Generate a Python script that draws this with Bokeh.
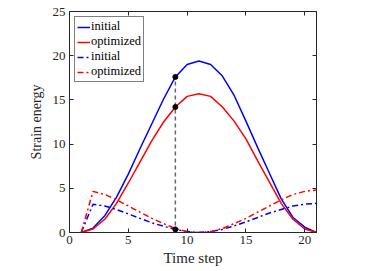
from bokeh.plotting import figure
from bokeh.models import LinearAxis, FixedTicker, CustomJSTickFormatter, Legend, LegendItem
from bokeh.embed import file_html
from bokeh.resources import INLINE

time_steps = list(range(1, 22))
initial_solid = [0, 0.5, 1.9, 4.0, 6.6, 9.5, 12.3, 15.1, 17.6, 19.0, 19.4,
                 19.0, 17.7, 15.5, 12.6, 9.6, 6.7, 3.8, 1.7, 0.6, 0]
optimized_solid = [0, 0.4, 1.5, 3.3, 5.6, 8.0, 10.4, 12.5, 14.2, 15.4, 15.7,
                   15.4, 14.2, 12.6, 10.6, 8.1, 5.7, 3.3, 1.5, 0.4, 0]
initial_dashdot = [0, 3.2, 3.0, 2.6, 2.1, 1.6, 1.1, 0.7, 0.35, 0.1, 0,
                   0.1, 0.35, 0.75, 1.2, 1.7, 2.2, 2.6, 3.0, 3.2, 3.3]
optimized_dashdot = [0, 4.65, 4.3, 3.7, 3.0, 2.3, 1.6, 1.0, 0.45, 0.1, 0,
                     0.1, 0.45, 1.0, 1.6, 2.3, 3.0, 3.7, 4.3, 4.65, 4.8]
marker_step = 9
x_ticks = [0, 5, 10, 15, 20]
y_ticks = [0, 5, 10, 15, 20, 25]

FONT = "Liberation Serif"
AX = "#262626"

p = figure(width=336, height=268, frame_width=247, frame_height=221,
           x_range=(0, 21), y_range=(0, 25), output_backend="svg",
           toolbar_location=None, min_border_left=69, min_border_top=11,
           min_border_right=20, min_border_bottom=36)
p.xgrid.visible = False
p.ygrid.visible = False
p.outline_line_color = AX
p.outline_line_width = 1
p.background_fill_color = "white"
p.border_fill_color = "white"

for ax in (p.xaxis[0], p.yaxis[0]):
    ax.major_tick_in = 4
    ax.major_tick_out = 0
    ax.minor_tick_line_color = None
    ax.axis_line_color = AX
    ax.major_tick_line_color = AX
    ax.major_label_text_font = FONT
    ax.major_label_text_font_size = "13px"
    ax.major_label_text_color = AX
    ax.axis_label_text_font = FONT
    ax.axis_label_text_font_style = "normal"
    ax.axis_label_text_color = AX
p.xaxis.ticker = FixedTicker(ticks=x_ticks)
p.yaxis.ticker = FixedTicker(ticks=y_ticks)
p.xaxis.axis_label = "Time step"
p.yaxis.axis_label = "Strain energy"
p.xaxis.axis_label_text_font_size = "15px"
p.yaxis.axis_label_text_font_size = "14px"
p.xaxis.major_label_standoff = 3
p.yaxis.major_label_standoff = 4
p.xaxis.axis_label_standoff = 3
p.yaxis.axis_label_standoff = 6

blank = CustomJSTickFormatter(code="return ''")
top = LinearAxis(ticker=FixedTicker(ticks=x_ticks), formatter=blank,
                 major_tick_in=4, major_tick_out=0, minor_tick_line_color=None,
                 axis_line_color=AX, major_tick_line_color=AX,
                 major_label_standoff=0, major_label_text_font_size="1px")
right = LinearAxis(ticker=FixedTicker(ticks=y_ticks), formatter=blank,
                   major_tick_in=4, major_tick_out=0, minor_tick_line_color=None,
                   axis_line_color=AX, major_tick_line_color=AX,
                   major_label_standoff=0, major_label_text_font_size="1px")
p.add_layout(top, "above")
p.add_layout(right, "right")

BLUE = "#0000ff"
RED = "#ff0000"
l1 = p.line(time_steps, initial_solid, line_color=BLUE, line_width=1.5)
l2 = p.line(time_steps, optimized_solid, line_color=RED, line_width=1.5)
l3 = p.line(time_steps, initial_dashdot, line_color=BLUE, line_width=1.5, line_dash="6 3 2 3")
l4 = p.line(time_steps, optimized_dashdot, line_color=RED, line_width=1.5, line_dash="6 3 2 3")

i = marker_step - 1
p.line([marker_step, marker_step], [0, initial_solid[i]], line_color="#666666",
       line_width=1.5, line_dash="4 3")
p.scatter([marker_step] * 3, [initial_solid[i], optimized_solid[i], initial_dashdot[i]],
          size=5, color="black")

legend = Legend(items=[LegendItem(label="initial", renderers=[l1]),
                       LegendItem(label="optimized", renderers=[l2]),
                       LegendItem(label="initial", renderers=[l3]),
                       LegendItem(label="optimized", renderers=[l4])],
                location="top_left")
legend.label_text_font = FONT
legend.label_text_font_size = "12.5px"
legend.label_text_color = "black"
legend.label_standoff = 1
legend.label_height = 12
legend.glyph_width = 13
legend.glyph_height = 12
legend.spacing = 0
legend.padding = 2
legend.margin = 5
legend.border_line_color = "black"
legend.border_line_width = 1
legend.background_fill_alpha = 1
p.add_layout(legend)

open("out.html", "w").write(file_html(p, INLINE))
